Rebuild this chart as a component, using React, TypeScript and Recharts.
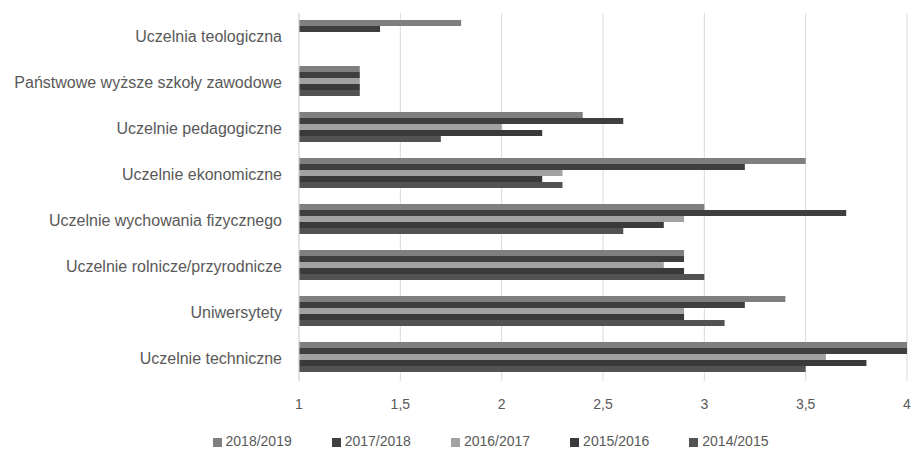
import { BarChart, Bar, XAxis, YAxis, CartesianGrid, Legend } from 'recharts'

const categories = [
  'Uczelnia teologiczna',
  'Państwowe wyższe szkoły zawodowe',
  'Uczelnie pedagogiczne',
  'Uczelnie ekonomiczne',
  'Uczelnie wychowania fizycznego',
  'Uczelnie rolnicze/przyrodnicze',
  'Uniwersytety',
  'Uczelnie techniczne',
]

const years = ['2018/2019', '2017/2018', '2016/2017', '2015/2016', '2014/2015']

const v2018 = [1.8, 1.3, 2.4, 3.5, 3.0, 2.9, 3.4, 4.0]
const v2017 = [1.4, 1.3, 2.6, 3.2, 3.7, 2.9, 3.2, 4.0]
const v2016 = [null, 1.3, 2.0, 2.3, 2.9, 2.8, 2.9, 3.6]
const v2015 = [null, 1.3, 2.2, 2.2, 2.8, 2.9, 2.9, 3.8]
const v2014 = [null, 1.3, 1.7, 2.3, 2.6, 3.0, 3.1, 3.5]

const ticks = [1, 1.5, 2, 2.5, 3, 3.5, 4]

const COLORS = ['#7f7f7f', '#3f3f3f', '#a2a2a2', '#3a3a3a', '#525252']

const series = [v2018, v2017, v2016, v2015, v2014]

const data = categories.map((name, i) => {
  const row: Record<string, string | number | null> = { name }
  years.forEach((y, s) => {
    row[y] = series[s][i]
  })
  return row
})

export default function App() {
  return (
    <div style={{ position: 'absolute', left: 0, top: 0, fontFamily: '"Liberation Sans", sans-serif' }}>
      <BarChart
        width={912}
        height={453}
        data={data}
        layout="vertical"
        margin={{ top: 13, right: 5, bottom: 0, left: 0 }}
        barCategoryGap={7}
        barGap={0}
      >
        <CartesianGrid horizontal={false} stroke="#d9d9d9" />
        <XAxis
          type="number"
          domain={[1, 4]}
          ticks={ticks}
          allowDataOverflow
          axisLine={false}
          tickLine={false}
          tickMargin={12}
          height={52}
          tick={{ fill: '#595959', fontSize: 14 }}
          tickFormatter={(v: number) => String(v).replace('.', ',')}
        />
        <YAxis
          type="category"
          dataKey="name"
          width={299}
          axisLine={{ stroke: '#d9d9d9' }}
          tickLine={false}
          tickMargin={11}
          tick={{ fill: '#595959', fontSize: 16 }}
          interval={0}
        />
        <Legend
          verticalAlign="bottom"
          height={20}
          iconType="square"
          iconSize={9}
          itemSorter={(item: { value?: string }) => years.indexOf(item.value ?? '')}
          wrapperStyle={{ fontSize: 14, paddingLeft: 57 }}
          formatter={(value: string) => <span style={{ color: '#595959', marginRight: 30 }}>{value}</span>}
        />
        {years.map((y, i) => (
          <Bar key={y} dataKey={y} fill={COLORS[i]} isAnimationActive={false} />
        ))}
      </BarChart>
    </div>
  )
}
